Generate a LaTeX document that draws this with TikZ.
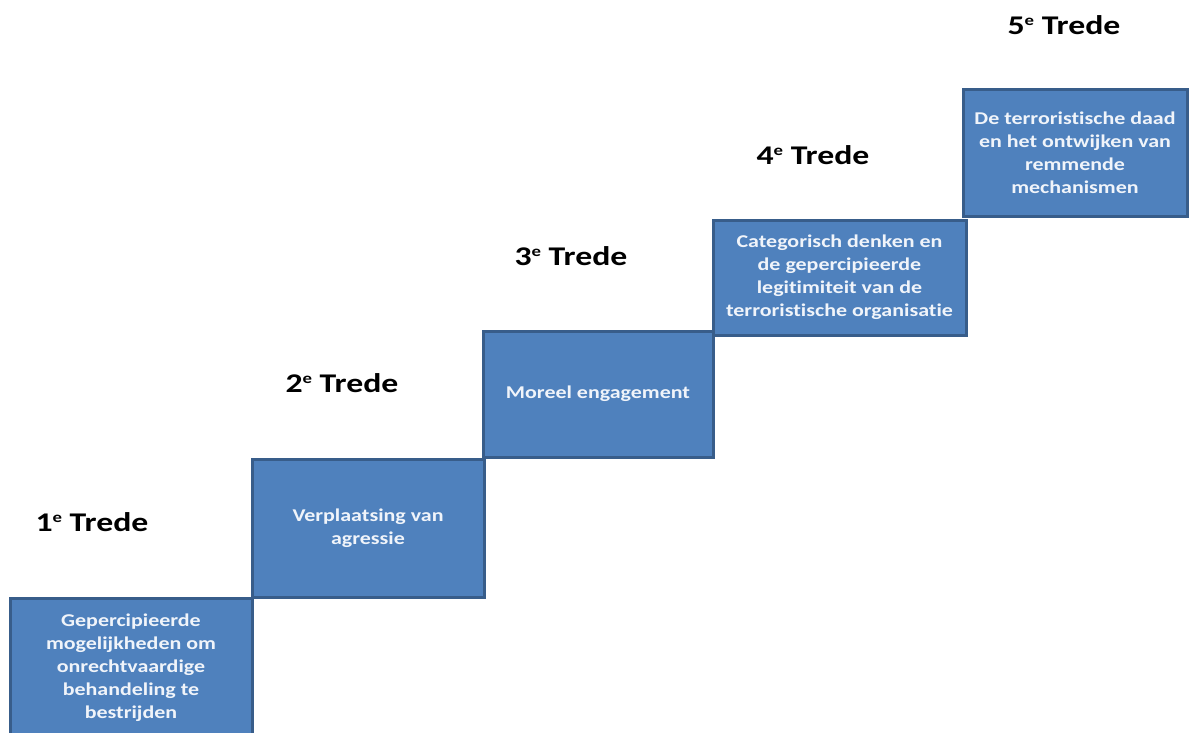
\documentclass[tikz,border=0pt]{standalone}
\usepackage{fontspec}
\newfontfamily\boxfont[FakeStretch=1.22,Ligatures=NoCommon]{Carlito}
\newfontfamily\lblfont[FakeStretch=1.25,Ligatures=NoCommon]{Carlito}
\newcommand\supe{\raisebox{9pt}{\fontsize{15}{15}\selectfont e}}
\definecolor{stepfill}{RGB}{79,129,189}
\definecolor{stepdraw}{RGB}{56,93,138}
\definecolor{steptext}{RGB}{240,244,250}
\tikzset{
  stepbox/.style={draw=stepdraw, fill=stepfill, line width=3pt, inner sep=0pt,
    text=steptext, align=center,
    font=\boxfont\bfseries\fontsize{18}{23}\selectfont},
  treelabel/.style={inner sep=0pt, text=black,
    font=\lblfont\bfseries\fontsize{27}{30}\selectfont}
}
\begin{document}
\begin{tikzpicture}[x=1pt,y=-1pt]
\useasboundingbox (0,0) rectangle (1189,733);
\clip (0,0) rectangle (1189,733);
\fill[white] (0,0) rectangle (1189,733);
% boxes
\node[stepbox, minimum width=242pt, minimum height=140pt] (b1) at (131,668)
  {Gepercipieerde\\mogelijkheden om\\onrechtvaardige\\behandeling te\\bestrijden};
\node[stepbox, minimum width=232pt, minimum height=138pt] (b2) at (368,528)
  {Verplaatsing van\\agressie};
\node[stepbox, minimum width=230pt, minimum height=126pt] (b3) at (598,394)
  {Moreel engagement};
\node[stepbox, minimum width=253pt, minimum height=115pt] (b4) at (839.5,277.5)
  {Categorisch denken en\\de gepercipieerde\\legitimiteit van de\\terroristische organisatie};
\node[stepbox, minimum width=224pt, minimum height=126pt] (b5) at (1075,153)
  {De terroristische daad\\en het ontwijken van\\remmende\\mechanismen};
% labels
\node[treelabel] (l1) at (92,522) {1\supe{} Trede};
\node[treelabel] (l2) at (342,383) {2\supe{} Trede};
\node[treelabel] (l3) at (571,256) {3\supe{} Trede};
\node[treelabel] (l4) at (813,155) {4\supe{} Trede};
\node[treelabel] (l5) at (1064,25) {5\supe{} Trede};
\end{tikzpicture}
\end{document}
